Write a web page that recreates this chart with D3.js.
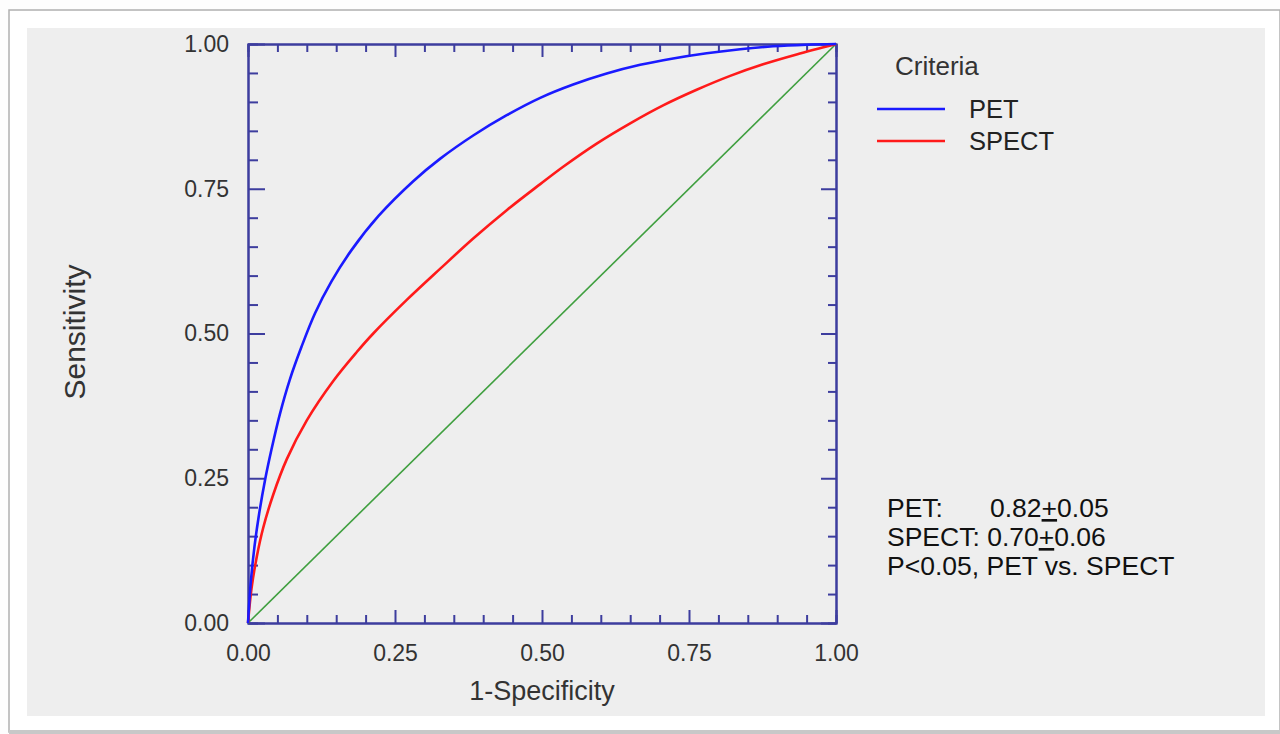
<!DOCTYPE html>
<html>
<head>
<meta charset="utf-8">
<script src="https://cdn.jsdelivr.net/npm/d3@7"></script>
<style>
  html, body { margin: 0; padding: 0; background: #fafafa; }
  svg { display: block; font-family: "Liberation Sans", Arial, sans-serif; }
</style>
</head>
<body>
<svg id="chart"></svg>
<script>
// ROC curves (1-specificity, sensitivity)
const petFpr = [0, 0.001, 0.005, 0.011, 0.019, 0.029, 0.040, 0.054, 0.071, 0.091, 0.114, 0.142, 0.176, 0.222, 0.281, 0.327, 0.383, 0.440, 0.497, 0.553, 0.610, 0.667, 0.723, 0.780, 0.837, 0.893, 0.950, 1];
const petTpr = [0, 0.017, 0.074, 0.132, 0.189, 0.247, 0.300, 0.360, 0.420, 0.477, 0.535, 0.590, 0.644, 0.703, 0.763, 0.802, 0.842, 0.877, 0.907, 0.930, 0.949, 0.964, 0.975, 0.984, 0.991, 0.996, 0.9988, 1];

const spectFpr = [0, 0.006, 0.015, 0.026, 0.043, 0.066, 0.100, 0.145, 0.185, 0.213, 0.270, 0.327, 0.383, 0.440, 0.497, 0.536, 0.593, 0.650, 0.706, 0.763, 0.820, 0.876, 0.933, 1];
const spectTpr = [0, 0.060, 0.115, 0.165, 0.222, 0.283, 0.350, 0.418, 0.468, 0.500, 0.558, 0.612, 0.664, 0.713, 0.758, 0.788, 0.828, 0.863, 0.894, 0.921, 0.945, 0.965, 0.982, 1];

const refFpr = [0, 1];
const refTpr = [0, 1];

const majorTicks = [0, 0.25, 0.5, 0.75, 1];
const minorTicks = [0.05, 0.1, 0.15, 0.2, 0.3, 0.35, 0.4, 0.45, 0.55, 0.6, 0.65, 0.7, 0.8, 0.85, 0.9, 0.95];

const legendNames = ['PET', 'SPECT'];
const statsLines = [
  ['PET:', '0.82', '0.05'],
  ['SPECT: ', '0.70', '0.06']
];
const pLine = 'P<0.05, PET vs. SPECT';

const W = 1280, H = 734;
const axisColor = '#3d3d9e';
const textColor = '#333';

const svg = d3.select('#chart').attr('width', W).attr('height', H);

// white card + grey panel
svg.append('rect').attr('x', 0).attr('y', 0).attr('width', W).attr('height', H).attr('fill', '#fdfdfd');
svg.append('rect').attr('x', 9).attr('y', 10).attr('width', W - 9).attr('height', 722)
  .attr('fill', '#fff').attr('stroke', '#b0b0b0').attr('stroke-width', 1.5);
svg.append('rect').attr('x', 9).attr('y', 730).attr('width', W - 9).attr('height', 4).attr('fill', '#c8c8c8');
svg.append('rect').attr('x', 27).attr('y', 28).attr('width', 1238).attr('height', 688).attr('fill', '#eeeeee');

const margin = { left: 248, top: 44, right: 836, bottom: 623 };

const x = d3.scaleLinear().domain([0, 1]).range([margin.left, margin.right]);
const y = d3.scaleLinear().domain([0, 1]).range([margin.bottom, margin.top]);

const fmt = d3.format('.2f');

function styleAxis(g) {
  g.select('.domain').attr('stroke', axisColor).attr('stroke-width', 2);
  g.selectAll('.tick line').attr('stroke', axisColor).attr('stroke-width', 2);
  g.selectAll('.tick text').attr('fill', textColor).style('font-size', '23px')
    .style('font-family', '"Liberation Sans", Arial, sans-serif');
}

// bottom
svg.append('g').attr('transform', `translate(0,${margin.bottom})`)
  .call(d3.axisBottom(x).tickValues(minorTicks).tickSize(-8).tickFormat(''))
  .call(styleAxis);
svg.append('g').attr('transform', `translate(0,${margin.bottom})`)
  .call(d3.axisBottom(x).tickValues(majorTicks).tickSizeInner(-13).tickSizeOuter(0).tickPadding(22).tickFormat(fmt))
  .call(styleAxis);
// top
svg.append('g').attr('transform', `translate(0,${margin.top})`)
  .call(d3.axisTop(x).tickValues(minorTicks).tickSize(-8).tickFormat(''))
  .call(styleAxis);
svg.append('g').attr('transform', `translate(0,${margin.top})`)
  .call(d3.axisTop(x).tickValues(majorTicks).tickSizeInner(-13).tickSizeOuter(0).tickFormat(''))
  .call(styleAxis);
// left
svg.append('g').attr('transform', `translate(${margin.left},0)`)
  .call(d3.axisLeft(y).tickValues(minorTicks).tickSize(-10).tickFormat(''))
  .call(styleAxis);
svg.append('g').attr('transform', `translate(${margin.left},0)`)
  .call(d3.axisLeft(y).tickValues(majorTicks).tickSizeInner(-17).tickSizeOuter(0).tickPadding(19).tickFormat(fmt))
  .call(styleAxis);
// right
svg.append('g').attr('transform', `translate(${margin.right},0)`)
  .call(d3.axisRight(y).tickValues(minorTicks).tickSize(-8).tickFormat(''))
  .call(styleAxis);
svg.append('g').attr('transform', `translate(${margin.right},0)`)
  .call(d3.axisRight(y).tickValues(majorTicks).tickSizeInner(-15).tickSizeOuter(0).tickFormat(''))
  .call(styleAxis);

// curves
const line = d3.line()
  .x(d => x(d[0]))
  .y(d => y(d[1]))
  .curve(d3.curveCatmullRom.alpha(0.5));

const series = [
  { fpr: refFpr, tpr: refTpr, color: '#3f9f3f', width: 1.6 },
  { fpr: spectFpr, tpr: spectTpr, color: '#ff1a1a', width: 2.6 },
  { fpr: petFpr, tpr: petTpr, color: '#1a1aff', width: 2.6 }
];

svg.append('g')
  .selectAll('path')
  .data(series)
  .enter()
  .append('path')
  .attr('fill', 'none')
  .attr('stroke', d => d.color)
  .attr('stroke-width', d => d.width)
  .attr('stroke-linejoin', 'round')
  .attr('d', d => line(d.fpr.map((v, i) => [v, d.tpr[i]])));

// axis titles
svg.append('text')
  .attr('x', x(0.5)).attr('y', 700)
  .attr('text-anchor', 'middle')
  .attr('fill', textColor)
  .style('font-size', '27px')
  .text('1-Specificity');

svg.append('text')
  .attr('transform', `translate(85,332) rotate(-90)`)
  .attr('text-anchor', 'middle')
  .attr('fill', textColor)
  .style('font-size', '30px')
  .text('Sensitivity');

// legend
const legend = svg.append('g');
legend.append('text')
  .attr('x', 895).attr('y', 75)
  .attr('fill', textColor)
  .style('font-size', '26px')
  .text('Criteria');

const legendColors = ['#1a1aff', '#ff1a1a'];
const legendRows = legend.selectAll('g.row')
  .data(legendNames)
  .enter()
  .append('g')
  .attr('class', 'row')
  .attr('transform', (d, i) => `translate(0,${109 + i * 32})`);

legendRows.append('line')
  .attr('x1', 877).attr('x2', 945)
  .attr('y1', 0).attr('y2', 0)
  .attr('stroke', (d, i) => legendColors[i])
  .attr('stroke-width', 2.6);

legendRows.append('text')
  .attr('x', 969).attr('y', 9)
  .attr('fill', '#222')
  .style('font-size', '25.5px')
  .text(d => d);

// AUC annotation
const notes = svg.append('g').attr('fill', '#111').style('font-size', '26.5px');
statsLines.forEach((row, i) => {
  const t = notes.append('text').attr('x', 887).attr('y', 517 + i * 29);
  t.append('tspan').text(row[0]);
  const v = t.append('tspan').text(row[1]);
  if (i === 0) v.attr('x', 990);
  t.append('tspan').style('text-decoration', 'underline').text('+');
  t.append('tspan').text(row[2]);
});
notes.append('text').attr('x', 887).attr('y', 575).text(pLine);
</script>
</body>
</html>
